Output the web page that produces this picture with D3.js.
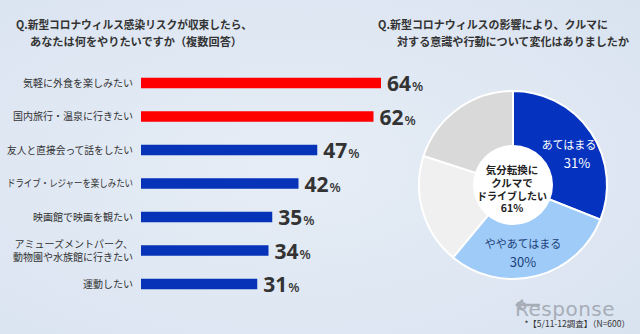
<!DOCTYPE html>
<html lang="ja">
<head>
<meta charset="utf-8">
<script src="https://cdn.jsdelivr.net/npm/d3@7"></script>
<style>
  html, body { margin: 0; padding: 0; background: #dde6f2; }
  svg { display: block; font-family: "Noto Sans CJK JP", "Noto Sans", sans-serif; }
</style>
</head>
<body>
<svg id="chart" width="640" height="334"></svg>
<script>
// Bar chart: what people want to do once the infection risk has subsided
const activities = [
  ["気軽に外食を楽しみたい"],
  ["国内旅行・温泉に行きたい"],
  ["友人と直接会って話をしたい"],
  ["ドライブ・レジャーを楽しみたい"],
  ["映画館で映画を観たい"],
  ["アミューズメントパーク、", "動物園や水族館に行きたい"],
  ["運動したい"]
];
const activityShares = [64, 62, 47, 42, 35, 34, 31];
const highlighted = [true, true, false, false, false, false, false];

// Donut: change in attitude toward cars
const donutLabels = ["あてはまる", "ややあてはまる", "あまりあてはまらない", "あてはまらない"];
const donutValues = [31, 30, 19, 20];
const donutCenterText = ["気分転換に", "クルマで", "ドライブしたい", "61%"];

const leftTitle = ["Q.新型コロナウィルス感染リスクが収束したら、", "あなたは何をやりたいですか（複数回答）"];
const rightTitle = ["Q.新型コロナウィルスの影響により、クルマに", "対する意識や行動について変化はありましたか"];
const footnote = "*【5/11-12調査】（N=600）";

const svg = d3.select("#chart");
const W = 640, H = 334;

// squeeze a text (or tspan) element into maxW if it runs longer
function fitText(sel, maxW) {
  sel.each(function () {
    const len = this.getComputedTextLength();
    if (len > maxW) {
      d3.select(this).attr("textLength", maxW).attr("lengthAdjust", "spacingAndGlyphs");
    }
  });
}

// background
const defs = svg.append("defs");
const bg = defs.append("radialGradient").attr("id", "bg")
  .attr("cx", "45%").attr("cy", "50%").attr("r", "75%");
bg.append("stop").attr("offset", "0%").attr("stop-color", "#e6edf6");
bg.append("stop").attr("offset", "100%").attr("stop-color", "#d9e3f0");
svg.append("rect").attr("width", W).attr("height", H).attr("fill", "url(#bg)");

// titles
const titleStyle = sel => sel.attr("font-size", 11.2).attr("font-weight", 700).attr("fill", "#333");
svg.append("text").call(titleStyle).attr("x", 16).attr("y", 29).text(leftTitle[0]).call(fitText, 236);
svg.append("text").call(titleStyle).attr("x", 30).attr("y", 46).text(leftTitle[1]).call(fitText, 212);
svg.append("text").call(titleStyle).attr("x", 378).attr("y", 29).text(rightTitle[0]).call(fitText, 230);
svg.append("text").call(titleStyle).attr("x", 397).attr("y", 46).text(rightTitle[1]).call(fitText, 232);

// ---- bars ----
const x = d3.scaleLinear().domain([0, 100]).range([141, 516]);
const y = d3.scalePoint().domain(d3.range(activityShares.length)).range([83, 284]);
const barH = 10.5;

const rows = svg.append("g").selectAll("g").data(activityShares).join("g");

rows.append("rect")
  .attr("x", x(0))
  .attr("y", (d, i) => y(i) - barH / 2)
  .attr("width", d => x(d) - x(0))
  .attr("height", barH)
  .attr("fill", (d, i) => highlighted[i] ? "#ff0000" : "#0633b8");

rows.append("text")
  .attr("text-anchor", "end")
  .attr("font-size", 10)
  .attr("fill", "#333")
  .each(function (d, i) {
    const lines = activities[i];
    const t = d3.select(this);
    lines.forEach((ln, k) => {
      t.append("tspan")
        .attr("x", 133)
        .attr("y", y(i) + 3.5 + (k - (lines.length - 1) / 2) * 13)
        .text(ln)
        .call(fitText, 126);
    });
  });

const val = rows.append("text")
  .attr("x", d => x(d) + 6)
  .attr("y", (d, i) => y(i) + 8)
  .attr("fill", "#333")
  .attr("font-family", "'Open Sans', 'Noto Sans', sans-serif")
  .attr("font-weight", 700);
val.append("tspan").attr("font-size", 21).text(d => d);
val.append("tspan").attr("font-size", 13).attr("font-weight", 600).attr("dx", 1).text("%");

// ---- donut ----
const cx = 513, cy = 185, R = 94, rHole = 40;
const pie = d3.pie().sort(null).startAngle(0).endAngle(2 * Math.PI);
const arcs = pie(donutValues);
const arc = d3.arc().innerRadius(0).outerRadius(R);
const sliceColors = ["#0533c0", "#9ecbf8", "#f0f0f0", "#d9d9d9"];

const g = svg.append("g").attr("transform", `translate(${cx},${cy})`);
g.selectAll("path").data(arcs).join("path")
  .attr("d", arc)
  .attr("fill", (d, i) => sliceColors[i])
  .attr("stroke", "#ffffff")
  .attr("stroke-width", 2);
g.append("circle").attr("r", rHole).attr("fill", "#ffffff");

// slice labels
const sliceText = [
  { i: 0, color: "#ffffff", x: 56, y: -36, dx: 8 },
  { i: 1, color: "#1d3f7a", x: 10, y: 63, dx: 0 }
];
sliceText.forEach(s => {
  g.append("text").attr("x", s.x).attr("y", s.y).attr("text-anchor", "middle")
    .attr("font-size", 11).attr("fill", s.color).text(donutLabels[s.i]);
  g.append("text").attr("x", s.x + s.dx).attr("y", s.y + 19).attr("text-anchor", "middle")
    .attr("font-size", 13).attr("fill", s.color).text(donutValues[s.i] + "%");
});

// centre text
const centre = g.append("text").attr("text-anchor", "middle")
  .attr("font-size", 10.5).attr("font-weight", 700).attr("fill", "#222");
donutCenterText.forEach((t, k) => {
  centre.append("tspan").attr("x", -1).attr("y", -11 + k * 12.8).text(t).call(fitText, 70);
});

// ---- watermark + footnote ----
const wm = svg.append("g").attr("opacity", 0.55);
wm.append("path")
  .attr("d", "M523,300 L517,305 L523,310 M517,305 L540,305")
  .attr("fill", "none").attr("stroke", "#7d8088").attr("stroke-width", 2.5);
wm.append("text").attr("x", 515).attr("y", 316)
  .attr("font-family", "'DejaVu Sans', sans-serif").attr("font-size", 20)
  .attr("fill", "#7d8088").attr("letter-spacing", 0.5).text("Response");

svg.append("text").attr("x", 630).attr("y", 327).attr("text-anchor", "end")
  .attr("font-size", 8.5).attr("fill", "#333").text(footnote);
</script>
</body>
</html>
